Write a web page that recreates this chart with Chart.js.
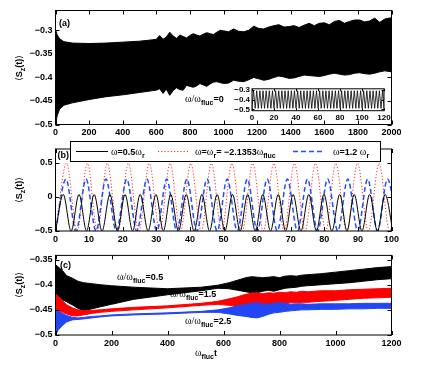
<!DOCTYPE html>
<html><head><meta charset="utf-8">
<script src="https://cdn.jsdelivr.net/npm/chart.js@4.4.1/dist/chart.umd.min.js"></script>
<style>
html,body{margin:0;padding:0;background:#fff;}
body{width:432px;height:386px;position:relative;overflow:hidden;}
canvas{position:absolute;display:block;}
</style></head><body>
<canvas id="ca" width="432" height="140" style="left:0;top:0"></canvas>
<canvas id="cb" width="432" height="109" style="left:0;top:138px"></canvas>
<canvas id="cc" width="432" height="139" style="left:0;top:247px"></canvas>
<canvas id="ci" width="172" height="42" style="left:222px;top:82px"></canvas>
<script>
// ---------- tick labels ----------
const aXTicks = [0,200,400,600,800,1000,1200,1400,1600,1800,2000];
const aYTicks = [-0.5,-0.45,-0.4,-0.35,-0.3];
const insetXTicks = [0,20,40,60,80,100,120];
const insetYTicks = [-0.5,-0.4,-0.3];
const bXTicks = [0,10,20,30,40,50,60,70,80,90,100];
const bYTicks = [-0.5,0,0.5];
const cXTicks = [0,200,400,600,800,1000,1200];
const cYTicks = [-0.5,-0.45,-0.4,-0.35];

// ---------- panel (a): envelope of the oscillation, omega/omega_fluc = 0 ----------
const aT = [0,10,25,50,100,200,300,400,500,580,600,620,640,660,680,700,720,740,760,780,800,820,840,860,880,900,920,940,960,980,1000,1030,1060,1090,1120,1150,1180,1210,1240,1270,1300,1330,1360,1390,1420,1450,1480,1510,1540,1570,1600,1630,1660,1690,1720,1750,1780,1810,1840,1870,1900,1930,1960,2000];
const aUpper = [-0.298,-0.310,-0.318,-0.324,-0.327,-0.328,-0.327,-0.325,-0.323,-0.320,
 -0.319,-0.311,-0.319,-0.314,-0.304,-0.312,-0.317,-0.310,-0.313,-0.316,-0.311,-0.307,-0.310,-0.312,-0.308,-0.305,-0.307,-0.309,-0.304,-0.300,-0.301,
 -0.303,-0.297,-0.302,-0.303,-0.300,-0.291,-0.296,-0.297,-0.293,-0.290,-0.288,-0.293,-0.292,-0.290,-0.294,-0.289,-0.285,-0.290,-0.285,-0.284,-0.288,-0.281,-0.279,-0.285,-0.281,-0.278,-0.278,-0.282,-0.280,-0.274,-0.283,-0.276,
 -0.273];
const aLower = [-0.500,-0.481,-0.467,-0.459,-0.454,-0.447,-0.441,-0.437,-0.432,-0.428,
 -0.427,-0.424,-0.434,-0.425,-0.438,-0.428,-0.422,-0.426,-0.427,-0.417,-0.419,-0.421,-0.418,-0.413,-0.416,-0.419,-0.414,-0.410,-0.409,-0.411,-0.413,
 -0.412,-0.406,-0.408,-0.409,-0.405,-0.400,-0.403,-0.406,-0.404,-0.400,-0.397,-0.399,-0.402,-0.401,-0.398,-0.395,-0.396,-0.397,-0.398,-0.396,-0.393,-0.391,-0.393,-0.395,-0.394,-0.391,-0.390,-0.392,-0.393,-0.391,-0.388,-0.386,
 -0.388];

// inset of (a): first 120 time units
const insetT = [0,1.4,2.9,4.3,5.7,7.2,8.6,10.0,11.4,12.9,14.3,15.7,17.2,18.6,20.0,21.5,22.9,24.3,25.7,27.2,28.6,30.0,31.5,32.9,34.3,35.8,37.2,38.6,40.0,41.5,42.9,44.3,45.8,47.2,48.6,50.1,51.5,52.9,54.3,55.8,57.2,58.6,60.1,61.5,62.9,64.4,65.8,67.2,68.6,70.1,71.5,72.9,74.4,75.8,77.2,78.7,80.1,81.5,82.9,84.4,85.8,87.2,88.7,90.1,91.5,93.0,94.4,95.8,97.2,98.7,100.1,101.5,103.0,104.4,105.8,107.3,108.7,110.1,111.5,113.0,114.4,115.8,117.3,118.7,120.1];
const insetV = [-0.49,-0.31,-0.49,-0.31,-0.49,-0.31,-0.49,-0.31,-0.49,-0.31,-0.49,-0.31,-0.49,-0.31,-0.49,-0.31,-0.49,-0.31,-0.49,-0.31,
 -0.49,-0.31,-0.49,-0.31,-0.49,-0.31,-0.49,-0.31,-0.49,-0.31,-0.49,-0.31,-0.49,-0.31,-0.49,-0.31,-0.49,-0.31,-0.49,-0.31,
 -0.49,-0.31,-0.49,-0.31,-0.49,-0.31,-0.49,-0.31,-0.49,-0.31,-0.49,-0.31,-0.49,-0.31,-0.49,-0.31,-0.49,-0.31,-0.49,-0.31,
 -0.49,-0.31,-0.49,-0.31,-0.49,-0.31,-0.49,-0.31,-0.49,-0.31,-0.49,-0.31,-0.49,-0.31,-0.49,-0.31,-0.49,-0.31,-0.49,-0.31,
 -0.49,-0.31,-0.49,-0.31,-0.49];

// ---------- panel (b): extrema of the three curves ----------
const blackT = [0,2.3,4.65,7.0,9.25,11.5,13.85,16.2,18.45,20.7,22.95,25.2,27.55,29.9,32.1,34.3,36.6,38.9,41.25,43.6,45.85,48.1,50.4,52.7,54.95,57.2,59.45,61.7,64.0,66.3,68.5,70.7,73.05,75.4,77.65,79.9,82.25,84.6,86.75,88.9,91.2,93.5,95.8,98.1,100.4];
const blackV = [-0.5,0.035,-0.5,0.035,-0.5,0.035,-0.5,0.035,-0.5,0.035,-0.5,0.035,-0.5,0.035,-0.5,0.035,-0.5,0.035,-0.5,0.035,-0.5,0.035,
 -0.5,0.035,-0.5,0.035,-0.5,0.035,-0.5,0.035,-0.5,0.035,-0.5,0.035,-0.5,0.035,-0.5,0.035,-0.5,0.035,-0.5,0.035,-0.5,0.035,-0.5];
const redT = [0,3.3,6.4,9.5,12.45,15.4,18.55,21.7,24.8,27.9,31.0,34.1,37.2,40.3,43.35,46.4,49.45,52.5,55.6,58.7,61.85,65.0,68.05,71.1,74.25,77.4,80.4,83.4,86.65,89.9,93.1,96.3,99.4,102.5];
const redV = [-0.5,0.49,-0.5,0.49,-0.5,0.49,-0.5,0.49,-0.5,0.49,-0.5,0.49,-0.5,0.49,-0.5,0.49,-0.5,0.49,-0.5,0.49,-0.5,0.49,-0.5,0.49,-0.5,0.49,-0.5,0.49,-0.5,0.49,-0.5,0.49,-0.5,0.49];
const blueT = [0,3.1,6.1,9.1,12.05,15.0,18.1,21.2,24.2,27.2,30.15,33.1,36.1,39.1,42.1,45.1,48.1,51.1,54.1,57.1,60.05,63.0,66.0,69.0,72.0,75.0,78.0,81.0,84.0,87.0,89.95,92.9,95.85,98.8,101.8];
const blueV = [-0.5,0.26,-0.5,0.26,-0.5,0.26,-0.5,0.26,-0.5,0.26,-0.5,0.26,-0.5,0.26,-0.5,0.26,-0.5,0.26,-0.5,0.26,-0.5,0.26,-0.5,0.26,-0.5,0.26,-0.5,0.26,-0.5,0.26,-0.5,0.26,-0.5,0.26,-0.5];

// ---------- panel (c): envelopes for omega/omega_fluc = 0.5, 1.5, 2.5 ----------
const cT = [0,10,25,40,60,80,100,130,160,200,280,400,520,580,620,650,680,700,720,740,760,780,800,820,840,860,880,900,950,1000,1050,1100,1150,1200];
const c05Upper = [-0.360,-0.365,-0.372,-0.382,-0.387,-0.393,-0.396,-0.398,-0.400,-0.402,-0.405,-0.408,-0.405,-0.401,-0.396,-0.391,-0.386,-0.384,-0.385,-0.386,-0.385,-0.384,-0.386,-0.383,-0.382,-0.383,-0.381,-0.380,-0.378,-0.375,-0.372,-0.369,-0.366,-0.364];
const c05Lower = [-0.420,-0.425,-0.430,-0.434,-0.440,-0.447,-0.452,-0.448,-0.444,-0.439,-0.429,-0.420,-0.412,-0.407,-0.408,-0.411,-0.414,-0.416,-0.416,-0.413,-0.411,-0.413,-0.410,-0.407,-0.406,-0.405,-0.403,-0.402,-0.400,-0.398,-0.396,-0.393,-0.390,-0.388];
const c15Upper = [-0.418,-0.423,-0.432,-0.440,-0.446,-0.450,-0.452,-0.451,-0.450,-0.448,-0.445,-0.442,-0.437,-0.433,-0.428,-0.424,-0.419,-0.417,-0.416,-0.418,-0.416,-0.417,-0.415,-0.416,-0.414,-0.415,-0.413,-0.414,-0.412,-0.412,-0.410,-0.409,-0.408,-0.407];
const c15Lower = [-0.450,-0.452,-0.455,-0.458,-0.462,-0.462,-0.460,-0.457,-0.455,-0.453,-0.450,-0.446,-0.441,-0.439,-0.441,-0.443,-0.444,-0.443,-0.441,-0.439,-0.440,-0.438,-0.438,-0.437,-0.436,-0.436,-0.435,-0.435,-0.433,-0.431,-0.429,-0.427,-0.426,-0.425];
const c25Upper = [-0.450,-0.453,-0.457,-0.461,-0.465,-0.466,-0.465,-0.463,-0.462,-0.460,-0.458,-0.456,-0.453,-0.450,-0.446,-0.442,-0.439,-0.437,-0.436,-0.438,-0.439,-0.437,-0.436,-0.437,-0.439,-0.438,-0.438,-0.439,-0.438,-0.438,-0.438,-0.437,-0.437,-0.437];
const c25Lower = [-0.500,-0.490,-0.481,-0.474,-0.470,-0.469,-0.468,-0.466,-0.464,-0.462,-0.460,-0.458,-0.455,-0.455,-0.458,-0.461,-0.463,-0.465,-0.466,-0.463,-0.459,-0.456,-0.455,-0.453,-0.452,-0.451,-0.450,-0.450,-0.449,-0.449,-0.448,-0.448,-0.447,-0.447];

// ---------- styling ----------
const SANS = '"Liberation Sans", Arial, Helvetica, sans-serif';
const SERIF = '"Liberation Serif", "Times New Roman", serif';
const F_MAIN = 'bold 9px ' + SANS;
const F_SUB = 'bold 7px ' + SANS;
const F_OM = '10px ' + SERIF;
const F_BR = '9px "DejaVu Sans", sans-serif';
const RED = '#ff0000';
const BLUE = '#2346f5';
const DRED = '#ff2a2a';
const DBLUE = '#1f4fff';

Chart.defaults.font.family = SANS;
Chart.defaults.font.size = 9;
Chart.defaults.font.weight = 'bold';
Chart.defaults.color = '#000';

function fmt(v){
  const r = Math.round(v*1000)/1000;
  const s = r.toString();
  return r < 0 ? '\u2212' + s.slice(1) : s;
}

function drawRich(ctx, x, y, parts, align){
  ctx.save();
  ctx.fillStyle = '#000'; ctx.textBaseline = 'alphabetic'; ctx.textAlign = 'left';
  let w = 0;
  parts.forEach(p => { ctx.font = p.f; w += ctx.measureText(p.t).width; });
  let cx = align === 'center' ? x - w/2 : (align === 'right' ? x - w : x);
  parts.forEach(p => { ctx.font = p.f; ctx.fillText(p.t, cx, y + (p.dy || 0)); cx += ctx.measureText(p.t).width; });
  ctx.restore();
  return w;
}
function ratioLabel(val){
  return [{t:'\u03c9/\u03c9', f:F_OM}, {t:'fluc', f:F_SUB, dy:3}, {t:'=' + val, f:F_MAIN}];
}
function yTitle(ctx, x, y){
  ctx.save();
  ctx.translate(x, y); ctx.rotate(-Math.PI/2);
  drawRich(ctx, 0, 0, [{t:'\u27e8', f:F_BR}, {t:'S', f:F_MAIN}, {t:'z', f:F_SUB, dy:3}, {t:'(t)', f:F_MAIN}, {t:'\u27e9', f:F_BR}], 'center');
  ctx.restore();
}

const framePlugin = {
  id: 'frame',
  afterDatasetsDraw(chart, args, opts){
    const {ctx, chartArea:a, scales} = chart;
    const L = opts.tick || 4;
    ctx.save();
    ctx.strokeStyle = '#000'; ctx.lineWidth = 1; ctx.setLineDash([]);
    ctx.beginPath();
    scales.x.ticks.forEach(t => {
      const px = Math.round(scales.x.getPixelForValue(t.value)) + 0.5;
      ctx.moveTo(px, a.bottom); ctx.lineTo(px, a.bottom - L);
      ctx.moveTo(px, a.top); ctx.lineTo(px, a.top + L);
    });
    scales.y.ticks.forEach(t => {
      const py = Math.round(scales.y.getPixelForValue(t.value)) + 0.5;
      ctx.moveTo(a.left, py); ctx.lineTo(a.left + L, py);
      ctx.moveTo(a.right, py); ctx.lineTo(a.right - L, py);
    });
    ctx.stroke();
    ctx.strokeRect(a.left, a.top, a.right - a.left, a.bottom - a.top);
    ctx.restore();
  }
};

function axis(min, max, ticksArr, fit, isX, fontSize, pad){
  return {
    type:'linear', min, max,
    grid:{display:false, drawTicks:false}, border:{display:false},
    ticks:{padding:pad, autoSkip:false, maxRotation:0, minRotation:0, color:'#000',
      font:{size:fontSize, weight:'bold', family:SANS}, callback:v => fmt(v)},
    afterBuildTicks: s => { s.ticks = ticksArr.map(v => ({value:v})); },
    afterFit: s => { if (isX) s.height = fit; else s.width = fit; }
  };
}
function opts(pad, xAx, yAx, tickLen){
  return {
    responsive:false, animation:false, events:[],
    layout:{padding:pad},
    plugins:{legend:{display:false}, tooltip:{enabled:false}, frame:{tick:tickLen}},
    scales:{x:xAx, y:yAx}
  };
}
function band(t, up, lo, color, order){
  return [
    {data:t.map((x,i) => ({x, y:up[i]})), borderColor:color, backgroundColor:color, borderWidth:1, fill:'+1', pointRadius:0, tension:0, order},
    {data:t.map((x,i) => ({x, y:lo[i]})), borderColor:color, backgroundColor:color, borderWidth:1, fill:false, pointRadius:0, tension:0, order}
  ];
}
function curve(t, v, color, width, dash, order){
  return {data:t.map((x,i) => ({x, y:v[i]})), borderColor:color, borderWidth:width, borderDash:dash,
    fill:false, pointRadius:0, cubicInterpolationMode:'monotone', tension:0.4, order};
}

// ---------- (a) ----------
new Chart(document.getElementById('ca'), {
  type:'line',
  data:{datasets: band(aT, aUpper, aLower, '#000', 0)},
  options: opts({left:0, right:40.5, top:10.5, bottom:0},
    axis(0, 2000, aXTicks, 15.5, true, 9, 3),
    axis(-0.5, -0.2578, aYTicks, 55.5, false, 9, 3), 4),
  plugins:[framePlugin, {id:'txtA', afterDraw(chart){
    const ctx = chart.ctx;
    drawRich(ctx, 59, 26, [{t:'(a)', f:F_MAIN}]);
    drawRich(ctx, 185, 102, ratioLabel('0'));
    yTitle(ctx, 22, 68);
  }}]
});

// ---------- inset of (a) ----------
new Chart(document.getElementById('ci'), {
  type:'line',
  data:{datasets:[{data:insetT.map((x,i) => ({x, y:insetV[i]})), borderColor:'#000', borderWidth:0.8, fill:false, pointRadius:0, tension:0}]},
  options: opts({left:0, right:10, top:6.3, bottom:0},
    axis(0, 120, insetXTicks, 13.3, true, 8, 2),
    axis(-0.514, -0.29, insetYTicks, 30, false, 8, 2), 2.5),
  plugins:[{id:'bgI', beforeDatasetsDraw(chart){
    const {ctx, chartArea:a} = chart;
    ctx.save(); ctx.fillStyle = '#fff'; ctx.fillRect(a.left, a.top, a.right - a.left, a.bottom - a.top); ctx.restore();
  }}, framePlugin]
});

// ---------- (b) ----------
new Chart(document.getElementById('cb'), {
  type:'line',
  data:{datasets:[
    curve(blackT, blackV, '#000', 1, [], 0),
    curve(blueT, blueV, DBLUE, 1.5, [5,3], 1),
    curve(redT, redV, DRED, 1, [1.2,2], 2)
  ]},
  options: opts({left:0, right:40.5, top:11, bottom:0},
    axis(0, 100, bXTicks, 16, true, 9, 3),
    axis(-0.5, 0.7, bYTicks, 55.5, false, 9, 3), 4),
  plugins:[framePlugin, {id:'txtB', afterDraw(chart){
    const ctx = chart.ctx, oy = 138;
    drawRich(ctx, 57.5, 158 - oy, [{t:'(b)', f:F_MAIN}]);
    yTitle(ctx, 22, 190 - oy);
    ctx.save();
    ctx.fillStyle = '#fff'; ctx.fillRect(70.5, 141.5 - oy, 310, 20);
    ctx.strokeStyle = '#000'; ctx.lineWidth = 1; ctx.strokeRect(70.5, 141.5 - oy, 310, 20);
    const ly = 151.5 - oy;
    ctx.beginPath(); ctx.setLineDash([]); ctx.strokeStyle = '#000'; ctx.moveTo(76, ly); ctx.lineTo(108, ly); ctx.stroke();
    ctx.beginPath(); ctx.setLineDash([1.2,2]); ctx.strokeStyle = DRED; ctx.moveTo(158, ly); ctx.lineTo(190, ly); ctx.stroke();
    ctx.beginPath(); ctx.setLineDash([5,3]); ctx.lineWidth = 1.5; ctx.strokeStyle = DBLUE; ctx.moveTo(293, ly); ctx.lineTo(325, ly); ctx.stroke();
    ctx.restore();
    const by = 154.5 - oy;
    drawRich(ctx, 111, by, [{t:'\u03c9', f:F_OM}, {t:'=0.5', f:F_MAIN}, {t:'\u03c9', f:F_OM}, {t:'r', f:F_SUB, dy:3}]);
    drawRich(ctx, 195, by, [{t:'\u03c9', f:F_OM}, {t:'=', f:F_MAIN}, {t:'\u03c9', f:F_OM}, {t:'r', f:F_SUB, dy:3}, {t:'= \u22122.1353', f:F_MAIN}, {t:'\u03c9', f:F_OM}, {t:'fluc', f:F_SUB, dy:3}]);
    drawRich(ctx, 333, by, [{t:'\u03c9', f:F_OM}, {t:'=1.2 ', f:F_MAIN}, {t:'\u03c9', f:F_OM}, {t:'r', f:F_SUB, dy:3}]);
  }}]
});

// ---------- (c) ----------
new Chart(document.getElementById('cc'), {
  type:'line',
  data:{datasets:[
    ...band(cT, c05Upper, c05Lower, '#000', 2),
    ...band(cT, c15Upper, c15Lower, RED, 1),
    ...band(cT, c25Upper, c25Lower, BLUE, 0)
  ]},
  options: opts({left:0, right:40.5, top:6, bottom:0},
    axis(0, 1200, cXTicks, 51, true, 9, 3),
    axis(-0.5, -0.3417, cYTicks, 55.5, false, 9, 3), 4),
  plugins:[framePlugin, {id:'txtC', afterDraw(chart){
    const ctx = chart.ctx, oy = 247;
    drawRich(ctx, 60, 268 - oy, [{t:'(c)', f:F_MAIN}]);
    yTitle(ctx, 22, 285 - oy);
    drawRich(ctx, 117, 280 - oy, ratioLabel('0.5'));
    drawRich(ctx, 170, 297 - oy, ratioLabel('1.5'));
    drawRich(ctx, 185, 324 - oy, ratioLabel('2.5'));
    drawRich(ctx, 206, 356 - oy, [{t:'\u03c9', f:F_OM}, {t:'fluc', f:F_SUB, dy:3}, {t:'t', f:F_MAIN}], 'center');
  }}]
});
</script></body></html>
